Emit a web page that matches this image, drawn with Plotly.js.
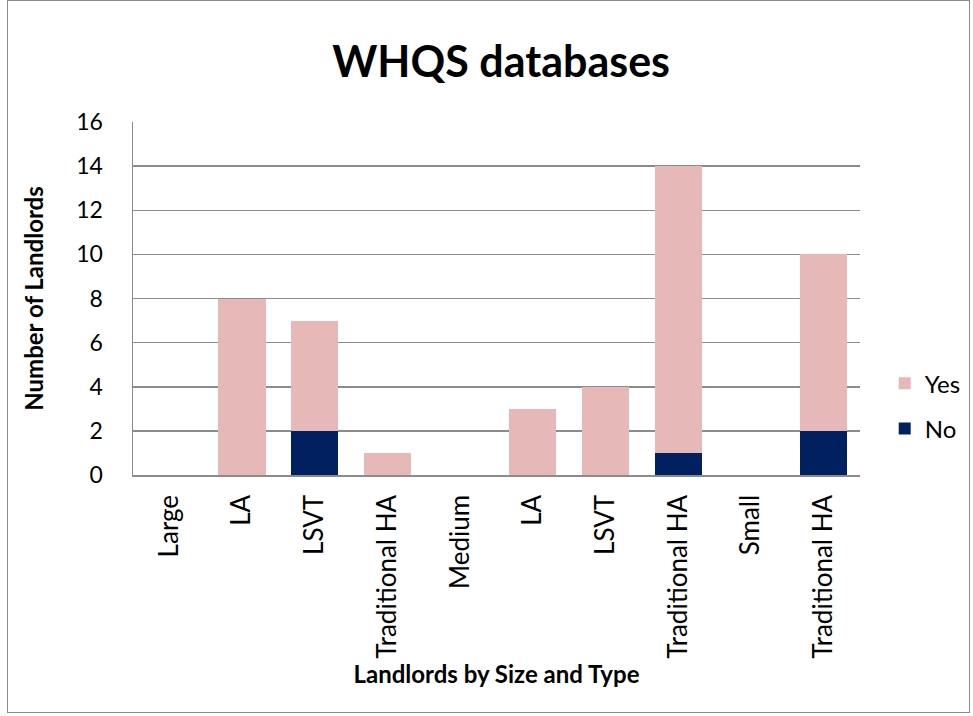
<!DOCTYPE html>
<html>
<head>
<meta charset="utf-8">
<script src="https://cdn.plot.ly/plotly-3.0.1.min.js"></script>
<style>
html,body{margin:0;padding:0;background:#fff;}
#wrap{position:relative;width:973px;height:716px;}
#chart{width:973px;height:716px;}
#frame{position:absolute;left:7px;top:0px;width:963px;height:713px;border:1px solid #8c8c8c;pointer-events:none;box-sizing:border-box;}
</style>
</head>
<body>
<div id="wrap"><div id="chart"></div><div id="frame"></div></div>
<script>
const categoryIds = ["c0","c1","c2","c3","c4","c5","c6","c7","c8","c9"];
const tickLabels = ["Large","LA","LSVT","Traditional HA","Medium","LA","LSVT","Traditional HA","Small","Traditional HA"];
const noValues  = [0, 0, 2, 0, 0, 0, 0, 1, 0, 2];
const yesValues = [0, 8, 5, 1, 0, 3, 4, 13, 0, 8];

const FONT = "Lato, 'Open Sans', sans-serif";

const traces = [
  {type:"bar", name:"No", x:categoryIds, y:noValues, marker:{color:"#002060"}, legendgroup:"a", legendrank:2, hoverinfo:"y+name"},
  {type:"bar", name:"Yes", x:categoryIds, y:yesValues, marker:{color:"#E6B8B7"}, legendgroup:"b", legendrank:1, hoverinfo:"y+name"}
];

const layout = {
  width:973, height:716,
  margin:{l:133, r:113, t:122, b:241, autoexpand:false},
  paper_bgcolor:"#fff", plot_bgcolor:"#fff",
  barmode:"stack", bargap:0.35,
  font:{family:FONT, color:"#000", size:24},
  title:{text:"<b>WHQS databases</b>", font:{family:FONT, size:43, color:"#000"}, x:0.515, xanchor:"center", y:0.913, yanchor:"middle"},
  xaxis:{
    type:"category", categoryorder:"array", categoryarray:categoryIds,
    tickvals:categoryIds, ticktext:tickLabels, tickangle:-90,
    tickfont:{family:FONT, size:26}, ticks:"", ticklen:0, ticklabelstandoff:8,
    showline:true, linecolor:"#8c8c8c", linewidth:1.5, showgrid:false,
    title:{text:"<b>Landlords by Size and Type</b>", font:{family:FONT, size:24}, standoff:5}
  },
  yaxis:{
    range:[0,16], dtick:2, tick0:0,
    tickfont:{family:FONT, size:23}, ticks:"", ticklabelstandoff:24,
    showline:true, linecolor:"#8c8c8c", linewidth:1.5,
    showgrid:true, gridcolor:"#8c8c8c", gridwidth:1.5, zeroline:false,
    title:{text:"<b>Number of Landlords</b>", font:{family:FONT, size:24}, standoff:26}
  },
  legend:{x:1.034, xanchor:"left", y:0.195, yanchor:"middle", traceorder:"grouped", tracegroupgap:11, font:{family:FONT, size:24}, bgcolor:"rgba(0,0,0,0)"},
  showlegend:true
};

Plotly.newPlot("chart", traces, layout, {displayModeBar:false, staticPlot:true});
</script>
</body>
</html>
